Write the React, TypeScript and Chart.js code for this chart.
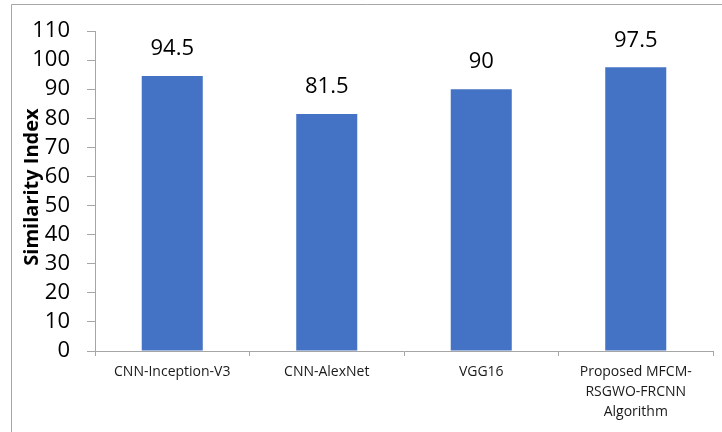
import React, { useEffect, useRef } from "react";
import { Chart, registerables } from "chart.js";

Chart.register(...registerables);

const categories: (string | string[])[] = [
  "CNN-Inception-V3",
  "CNN-AlexNet",
  "VGG16",
  ["Proposed MFCM-", "RSGWO-FRCNN", "Algorithm"],
];
const similarityValues = [94.5, 81.5, 90, 97.5];
const valueLabels = ["94.5", "81.5", "90", "97.5"];
const yAxisTitle = "Similarity Index";

const FONT = "'Open Sans', 'DejaVu Sans', sans-serif";

// Outer frame, rotated axis title and value labels above each bar
const decorations = {
  id: "decorations",
  afterDraw(chart: any) {
    const ctx = chart.ctx;
    ctx.save();
    ctx.strokeStyle = "#a6a6a6";
    ctx.lineWidth = 1;
    ctx.beginPath();
    ctx.moveTo(11.5, 432);
    ctx.lineTo(11.5, 4.5);
    ctx.lineTo(722, 4.5);
    ctx.stroke();

    ctx.fillStyle = "#000000";
    ctx.font = `bold 20px ${FONT}`;
    ctx.textAlign = "center";
    ctx.textBaseline = "middle";
    ctx.translate(32, 187);
    ctx.rotate(-Math.PI / 2);
    ctx.fillText(yAxisTitle, 0, 0);
    ctx.restore();

    ctx.save();
    ctx.fillStyle = "#000000";
    ctx.font = `22px ${FONT}`;
    ctx.textAlign = "center";
    ctx.textBaseline = "middle";
    const meta = chart.getDatasetMeta(0);
    meta.data.forEach((bar: any, i: number) => {
      ctx.fillText(valueLabels[i], bar.x, bar.y - 27);
    });
    ctx.restore();
  },
};

export default function App() {
  const canvasRef = useRef<HTMLCanvasElement | null>(null);

  useEffect(() => {
    if (!canvasRef.current) return;
    const chart = new Chart(canvasRef.current, {
      type: "bar",
      data: {
        labels: categories,
        datasets: [
          {
            data: similarityValues,
            backgroundColor: "#4472C4",
            barPercentage: 0.79,
            categoryPercentage: 0.5,
          },
        ],
      },
      options: {
        responsive: false,
        animation: false,
        layout: { padding: { top: 31, right: 9, left: 0, bottom: 0 } },
        plugins: {
          legend: { display: false },
          tooltip: { enabled: false },
        },
        scales: {
          x: {
            afterFit(scale: any) {
              scale.height = 81;
            },
            grid: {
              offset: true,
              drawOnChartArea: false,
              drawTicks: true,
              tickLength: 5,
              color: "#a6a6a6",
            },
            border: { color: "#a6a6a6" },
            ticks: {
              color: "#1a1a1a",
              font: { family: FONT, size: 14, lineHeight: "20px" },
              padding: 6,
              maxRotation: 0,
              autoSkip: false,
            },
          },
          y: {
            min: 0,
            max: 110,
            afterFit(scale: any) {
              scale.width = 95;
            },
            grid: {
              drawOnChartArea: false,
              tickLength: 8,
              color: "#a6a6a6",
            },
            border: { color: "#a6a6a6" },
            ticks: {
              stepSize: 10,
              autoSkip: false,
              color: "#000000",
              font: { family: FONT, size: 22, lineHeight: 1 },
              padding: 17,
            },
          },
        },
      },
      plugins: [decorations],
    });
    return () => chart.destroy();
  }, []);

  return (
    <div style={{ position: "absolute", left: 0, top: 0, width: 722, height: 432, background: "#ffffff" }}>
      <canvas ref={canvasRef} width={722} height={432} />
    </div>
  );
}
